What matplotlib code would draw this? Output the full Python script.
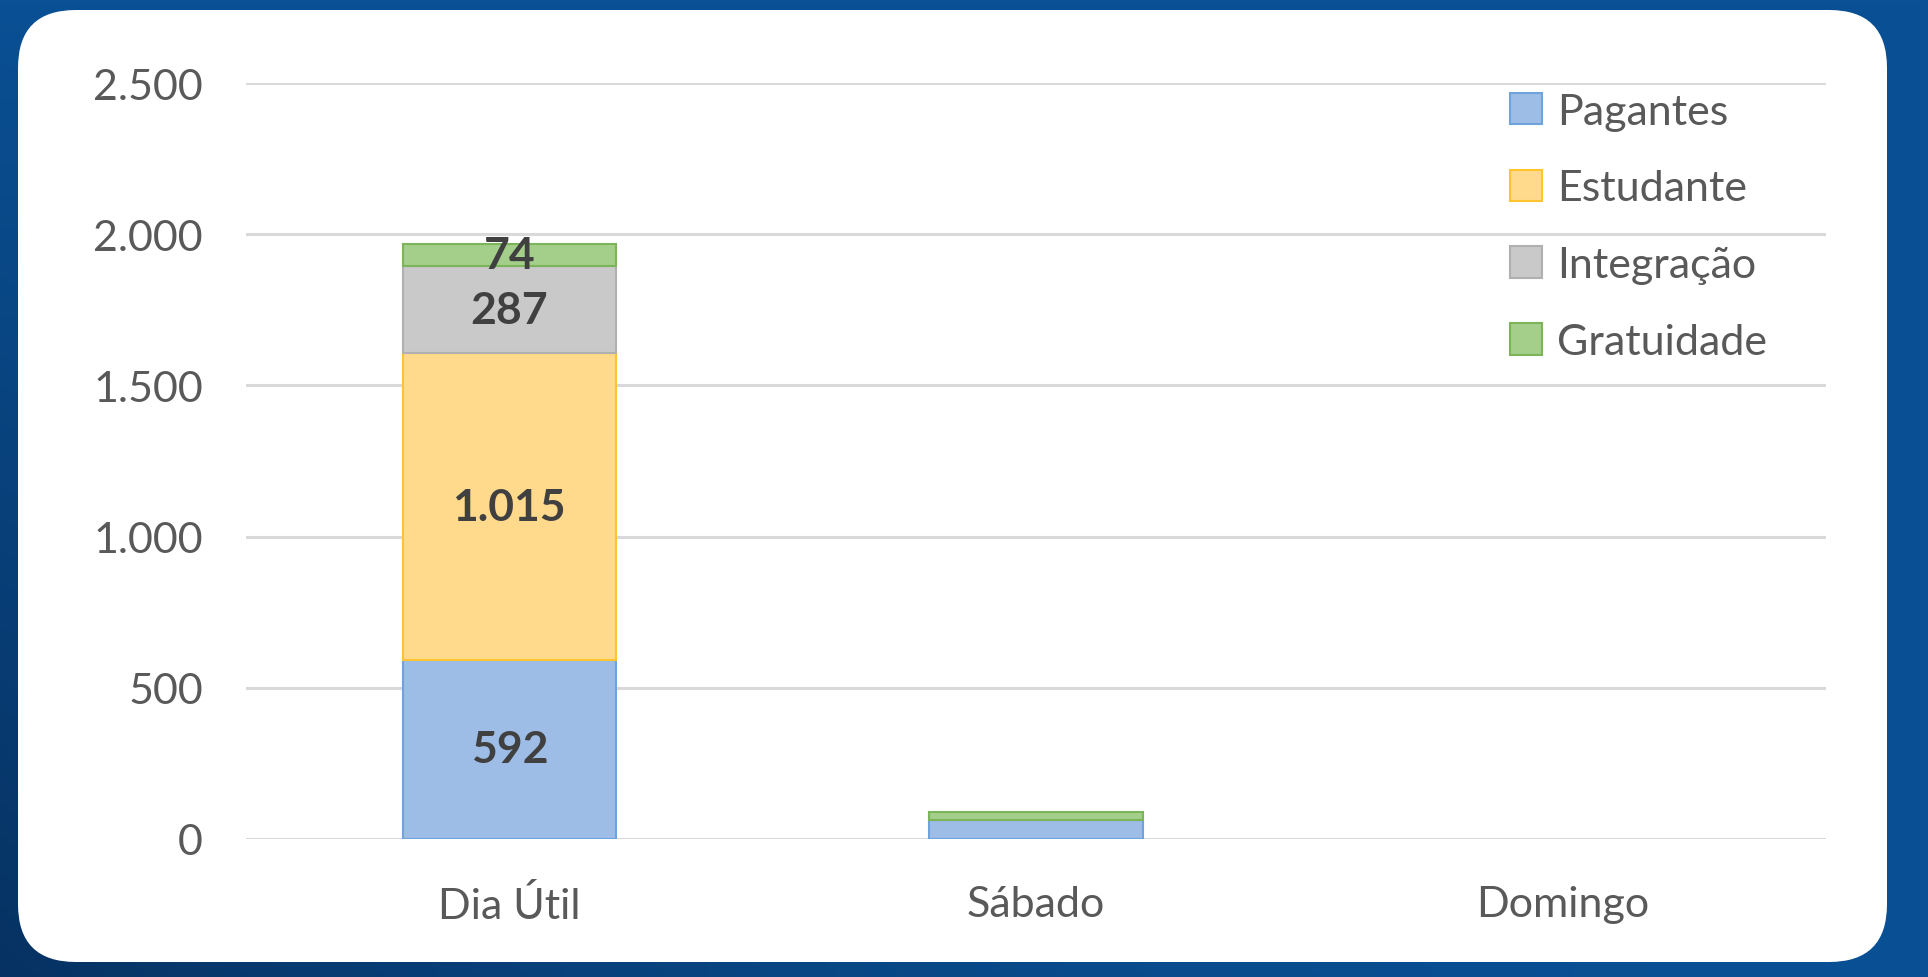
import matplotlib
matplotlib.use("Agg")
import matplotlib.pyplot as plt
import numpy as np
from matplotlib.patches import FancyBboxPatch
from matplotlib.ticker import FuncFormatter

categories = ["Dia Útil", "Sábado", "Domingo"]
series = ["Pagantes", "Estudante", "Integração", "Gratuidade"]
pagantes = [592, 63, 0]
estudante = [1015, 0, 0]
integracao = [287, 0, 0]
gratuidade = [74, 26, 0]
values = [pagantes, estudante, integracao, gratuidade]
show_labels = [[True, False, False], [True, False, False], [True, False, False], [True, False, False]]

faces = ["#9dbde6", "#ffd98c", "#c9c9c9", "#a4cf8a"]
edges = ["#6fa3dc", "#ffc52e", "#b0b0b0", "#7cb45a"]

plt.rcParams["font.family"] = ["Lato", "DejaVu Sans"]

fig = plt.figure(figsize=(19.28, 9.78), dpi=100)

# blue background with white rounded panel
bg = fig.add_axes([0, 0, 1, 1])
grad = np.linspace(0, 1, 256)
gx, gy = np.meshgrid(grad, grad)
mix = np.clip(0.7 * (1 - gx) ** 2 * gy, 0, 1)
top = np.array([0x0a, 0x50, 0x94]) / 255
dark = np.array([0x05, 0x25, 0x4d]) / 255
img = top[None, None, :] * (1 - mix[..., None]) + dark[None, None, :] * mix[..., None]
bg.imshow(img, extent=[0, 1, 0, 1], aspect="auto", origin="upper")
bg.add_patch(FancyBboxPatch((18 / 1928, 15 / 978), 1869 / 1928, 952 / 978,
                            boxstyle="round,pad=0,rounding_size=0.03",
                            mutation_aspect=1928 / 978,
                            facecolor="white", edgecolor="none"))
bg.set_xlim(0, 1)
bg.set_ylim(0, 1)
bg.axis("off")

ax = fig.add_axes([246 / 1928, 138 / 978, (1826 - 246) / 1928, (894 - 138) / 978])
x = np.arange(len(categories))
bottom = np.zeros(len(categories))
for name, vals, fc, ec, lab in zip(series, values, faces, edges, show_labels):
    vals = np.array(vals, dtype=float)
    shown = np.where(vals > 0, vals, np.nan)
    bars = ax.bar(x, shown, width=0.405, bottom=bottom, color=fc, edgecolor=ec,
                  linewidth=1.5, label=name, zorder=3)
    for i, b in enumerate(bars):
        if lab[i]:
            txt = f"{int(vals[i]):,}".replace(",", ".")
            ax.text(x[i], bottom[i] + vals[i] / 2, txt,
                    ha="center", va="center", fontsize=32, fontweight="bold",
                    color="#404040", zorder=4)
    bottom += vals

ax.set_xlim(-0.5, 2.5)
ax.set_ylim(0, 2500)
ax.set_yticks(np.arange(0, 2501, 500))
ax.yaxis.set_major_formatter(FuncFormatter(lambda v, p: f"{int(v):,}".replace(",", ".")))
ax.grid(axis="y", color="#d9d9d9", linewidth=2.2, zorder=0)
ax.set_xticks(x)
ax.set_xticklabels(categories)
ax.tick_params(axis="both", length=0, labelsize=31, colors="#595959")
ax.tick_params(axis="x", pad=33)
ax.tick_params(axis="y", pad=31)
for s in ax.spines.values():
    s.set_visible(False)
ax.set_facecolor("none")

leg = ax.legend(loc="upper right", bbox_to_anchor=(0.982, 1.027), frameon=False,
                fontsize=31, labelcolor="#595959", handlelength=0.75, handleheight=0.75,
                handletextpad=0.35, labelspacing=0.9, borderpad=0.2)

fig.savefig("out.png", dpi=100)
